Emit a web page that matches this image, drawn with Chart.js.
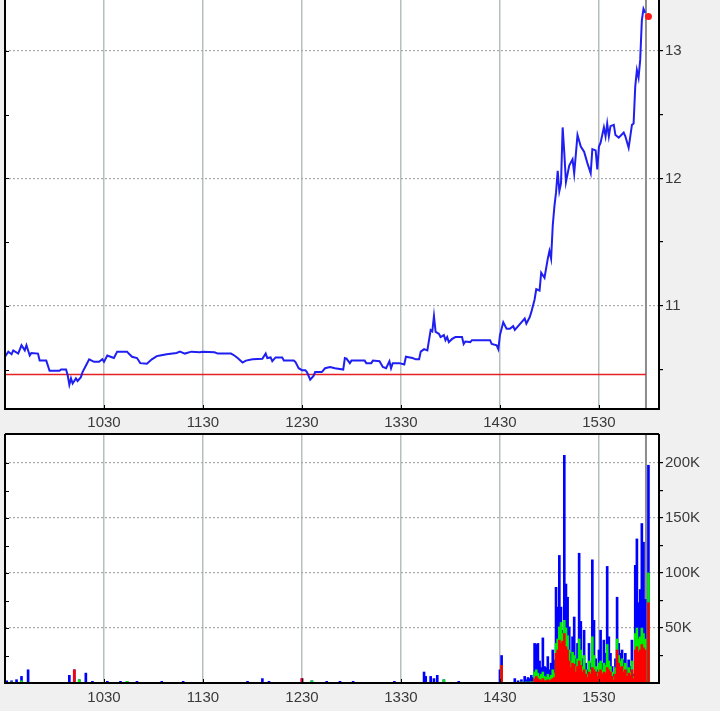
<!DOCTYPE html>
<html>
<head>
<meta charset="utf-8">
<script src="https://cdn.jsdelivr.net/npm/chart.js@4.4.0/dist/chart.umd.min.js"></script>
<style>
  html, body { margin: 0; padding: 0; background: #f0f0f0; }
  canvas { display: block; }
</style>
</head>
<body>
<canvas id="priceChart" width="720" height="432"></canvas>
<canvas id="volChart" width="720" height="279"></canvas>
<script>
// all times are HHMM
var sessionStart = 930;
var sessionEnd = 1606.4;
var hourTicks = [1030, 1130, 1230, 1330, 1430, 1530];
var priceTicks = [10.5, 11, 11.5, 12, 12.5, 13];
var volTicks = [25, 50, 75, 100, 125, 150, 175, 200];   // thousands

var priceTimes = [
  930, 932, 934, 935, 938, 940, 942, 943, 945, 946, 950, 951, 955, 956, 957,
  1003, 1004, 1007, 1008, 1009, 1010, 1011, 1013, 1014, 1016, 1017, 1019, 1021, 1024, 1027, 1029,
  1030, 1032, 1034, 1036, 1038, 1044, 1045, 1047, 1050, 1052, 1056, 1059,
  1102, 1104, 1108, 1114, 1116, 1119, 1123, 1128, 1130, 1137, 1139, 1147, 1149, 1151, 1154, 1156,
  1200, 1206, 1208, 1209, 1211, 1212, 1214, 1218, 1219, 1225, 1226, 1228, 1230, 1232, 1233, 1235,
  1237, 1238, 1242, 1244, 1247, 1250, 1255, 1256, 1257, 1259,
  1300, 1308, 1309, 1312, 1313, 1317, 1319, 1321, 1323, 1324, 1325, 1329, 1332, 1333, 1337, 1339,
  1341, 1342, 1344, 1346, 1348, 1349, 1350, 1351, 1353, 1354, 1356, 1357, 1358, 1359,
  1401, 1403, 1407, 1408, 1409, 1412, 1413, 1424, 1425, 1428, 1429, 1430, 1432, 1434, 1436, 1438,
  1439, 1441, 1443, 1445, 1446, 1448, 1449, 1451, 1452, 1454, 1455, 1457, 1459,
  1500, 1501, 1502, 1503, 1504, 1505, 1506, 1507, 1508, 1509, 1510, 1512, 1514, 1515, 1517, 1519,
  1521, 1523, 1525, 1526, 1528, 1529, 1530, 1531, 1533, 1534, 1535, 1536, 1537, 1539, 1540, 1542,
  1545, 1546, 1548, 1550, 1551, 1552, 1553, 1554, 1555, 1556, 1557, 1558
];
var priceValues = [
  10.60, 10.64, 10.62, 10.65, 10.625, 10.69, 10.65, 10.69, 10.61, 10.63, 10.625, 10.57, 10.57, 10.53, 10.49,
  10.49, 10.50, 10.50, 10.455, 10.38, 10.43, 10.39, 10.43, 10.41, 10.44, 10.48, 10.53, 10.58, 10.56, 10.56, 10.58,
  10.56, 10.61, 10.60, 10.59, 10.64, 10.64, 10.625, 10.60, 10.59, 10.55, 10.545, 10.58,
  10.605, 10.61, 10.62, 10.63, 10.64, 10.625, 10.64, 10.635, 10.64, 10.635, 10.625, 10.625, 10.61, 10.59, 10.555, 10.57,
  10.58, 10.585, 10.625, 10.59, 10.595, 10.565, 10.595, 10.595, 10.57, 10.57, 10.56, 10.51, 10.495, 10.495, 10.48, 10.42,
  10.45, 10.48, 10.48, 10.51, 10.52, 10.51, 10.50, 10.59, 10.585, 10.55,
  10.57, 10.57, 10.55, 10.55, 10.57, 10.565, 10.52, 10.51, 10.565, 10.51, 10.55, 10.55, 10.54, 10.60, 10.59, 10.58,
  10.58, 10.64, 10.66, 10.65, 10.81, 10.80, 10.92, 10.795, 10.78, 10.755, 10.77, 10.73, 10.755, 10.715,
  10.74, 10.755, 10.755, 10.70, 10.72, 10.715, 10.73, 10.73, 10.70, 10.69, 10.66, 10.77, 10.87, 10.82, 10.82, 10.84,
  10.81, 10.84, 10.87, 10.90, 10.86, 10.91, 10.95, 11.05, 11.13, 11.12, 11.26, 11.22, 11.37,
  11.43, 11.37, 11.63, 11.78, 11.89, 12.06, 11.90, 11.96, 12.40, 12.20, 11.97, 12.10, 12.15, 12.04, 12.34, 12.25,
  12.21, 12.12, 12.04, 12.23, 12.22, 12.07, 12.25, 12.28, 12.40, 12.33, 12.43, 12.33, 12.41, 12.42, 12.34, 12.32,
  12.36, 12.33, 12.24, 12.42, 12.43, 12.72, 12.85, 12.79, 12.93, 13.24, 13.33, 13.30
];
var prevClose = 10.46;
var lastTime = 1600;
var lastPrice = 13.27;
var markerTime = 1558.5;

var volTimes = [
  931, 934, 937, 940, 944, 1009, 1012, 1015, 1019, 1023, 1032, 1040, 1044, 1050, 1105, 1118,
  1157, 1206, 1210, 1230, 1236, 1245, 1253, 1301, 1326, 1344, 1345, 1348, 1350, 1352, 1356, 1405,
  1430, 1431, 1439, 1441, 1443, 1445, 1446, 1447, 1448, 1449, 1450,
  1451, 1452, 1453, 1454, 1455, 1456, 1457, 1458, 1459,
  1500, 1501, 1502, 1503, 1504, 1505, 1506, 1507, 1508, 1509,
  1510, 1511, 1512, 1513, 1514, 1515, 1516, 1517, 1518, 1519,
  1520, 1521, 1522, 1523, 1524, 1525, 1526, 1527, 1528, 1529,
  1530, 1531, 1532, 1533, 1534, 1535, 1536, 1537, 1538, 1539,
  1540, 1541, 1542, 1543, 1544, 1545, 1546, 1547, 1548, 1549,
  1550, 1551, 1552, 1553, 1554, 1555, 1556, 1557, 1558, 1600
];
// bar tops in thousands: blue = total, green and red drawn in front
var volBlue = [
  2, 2, 3, 6, 12, 7, 12, 3, 9, 1.5, 1.5, 1.5, 1.5, 1.5, 1.5, 1.5,
  1.5, 4, 1.5, 4, 2, 1.5, 1.5, 1.5, 1.5, 10, 6, 6, 4, 7, 3, 1.5,
  12, 25, 4, 2, 3, 6, 3, 5, 4, 7, 5,
  36, 35, 36, 20, 14, 41, 15, 14, 24,
  12, 18, 30, 21, 87, 69, 116, 69, 48, 207,
  90, 78, 51, 27, 42, 60, 22, 36, 118, 56,
  22, 48, 18, 12, 36, 18, 112, 57, 22, 12,
  30, 48, 18, 39, 27, 106, 42, 27, 15, 8,
  22, 78, 36, 27, 30, 21, 27, 12, 21, 15,
  39, 8, 107, 131, 73, 85, 145, 128, 76, 198
];
var volGreen = [
  0, 1, 0, 2, 0, 0, 0, 3, 0, 0, 0, 0, 1.5, 0, 0, 0,
  0, 0, 0, 0, 2, 0, 0, 0, 0, 0, 0, 0, 0, 0, 3, 0,
  0, 16, 0, 0, 1, 0, 1, 0, 1, 1, 1,
  10, 12, 9, 6, 8, 10, 6, 5, 8,
  5, 7, 12, 9, 36, 40, 51, 55, 45, 57,
  50, 43, 30, 20, 28, 25, 15, 22, 40, 30,
  15, 25, 12, 8, 20, 12, 42, 25, 15, 9,
  18, 20, 12, 18, 16, 35, 20, 15, 10, 5,
  14, 40, 25, 20, 22, 15, 18, 9, 14, 10,
  20, 6, 45, 50, 40, 42, 50, 45, 40, 100
];
var volRed = [
  0, 0, 0, 0, 0, 0, 12, 0, 0, 0, 0, 0, 0, 0, 0, 0,
  0, 0, 0, 4, 0, 0, 0, 0, 0, 0, 0, 0, 0, 0, 0, 0,
  0, 16, 0, 0, 0, 0, 0, 0, 0, 0, 0,
  4, 6, 4, 3, 2, 4, 2, 2, 3,
  2, 3, 4, 5, 27, 30, 39, 36, 38, 45,
  33, 30, 20, 14, 18, 17, 10, 15, 20, 16,
  10, 12, 8, 5, 10, 8, 14, 12, 10, 6,
  10, 12, 8, 10, 9, 14, 12, 10, 6, 3,
  8, 30, 18, 14, 15, 10, 12, 6, 9, 7,
  12, 4, 30, 33, 28, 30, 35, 32, 30, 73
];

function toMin(hhmm) {
  return Math.floor(hhmm / 100) * 60 + (hhmm % 100);
}
function toHHMM(m) {
  return String(Math.floor(m / 60) * 100 + Math.round(m % 60));
}
function points(times, values) {
  return times.map(function (t, i) { return { x: toMin(t), y: values[i] }; });
}

var labelFont = { family: 'Liberation Sans', size: 15 };
var labelColor = '#3a3a3a';

// white plot area, time marker, black frame and small inner ticks
var panelPlugin = {
  id: 'panel',
  beforeDraw: function (chart) {
    var a = chart.chartArea, ctx = chart.ctx;
    ctx.save();
    ctx.fillStyle = '#ffffff';
    ctx.fillRect(a.left, a.top, a.right - a.left, a.bottom - a.top);
    ctx.restore();
  },
  beforeDatasetsDraw: function (chart) {
    var a = chart.chartArea, ctx = chart.ctx;
    var x = chart.scales.x.getPixelForValue(toMin(markerTime));
    ctx.save();
    ctx.strokeStyle = '#8c8c8c';
    ctx.lineWidth = 2;
    ctx.beginPath();
    ctx.moveTo(x, a.top);
    ctx.lineTo(x, a.bottom);
    ctx.stroke();
    ctx.restore();
  },
  afterDraw: function (chart, args, opts) {
    var a = chart.chartArea, ctx = chart.ctx;
    ctx.save();
    ctx.strokeStyle = '#000000';
    ctx.lineWidth = 2;
    ctx.beginPath();
    if (opts.topEdge) {
      ctx.moveTo(a.left, a.top);
      ctx.lineTo(a.right, a.top);
    }
    ctx.moveTo(a.left, a.top);
    ctx.lineTo(a.left, a.bottom);
    ctx.lineTo(a.right, a.bottom);
    ctx.lineTo(a.right, a.top);
    ctx.stroke();
    ctx.lineWidth = 1;
    ctx.beginPath();
    chart.scales.y.ticks.forEach(function (t) {
      var y = Math.round(chart.scales.y.getPixelForValue(t.value)) + 0.5;
      ctx.moveTo(a.left, y);
      ctx.lineTo(a.left + 4, y);
    });
    chart.scales.x.ticks.forEach(function (t) {
      var x = Math.round(chart.scales.x.getPixelForValue(t.value)) + 0.5;
      ctx.moveTo(x, a.bottom);
      ctx.lineTo(x, a.bottom - 4);
    });
    ctx.stroke();
    ctx.restore();
  }
};

function timeScale(axisHeight, pad) {
  return {
    type: 'linear',
    bounds: 'data',
    min: toMin(sessionStart),
    max: toMin(sessionEnd),
    offset: false,
    afterBuildTicks: function (s) {
      s.ticks = hourTicks.map(function (h) { return { value: toMin(h) }; });
    },
    afterFit: function (s) {
      s.height = axisHeight;
      s.paddingLeft = 0;
      s.paddingRight = 0;
    },
    ticks: {
      callback: function (v) { return toHHMM(v); },
      font: labelFont,
      color: labelColor,
      padding: pad,
      maxRotation: 0,
      autoSkip: false
    },
    grid: { color: '#b6bebe', lineWidth: 1.5, drawTicks: false, offset: false },
    border: { display: false }
  };
}

function valueScale(min, max, tickList, isMajor, fmt) {
  return {
    position: 'right',
    bounds: 'data',
    min: min,
    max: max,
    afterBuildTicks: function (s) {
      s.ticks = tickList.map(function (v) { return { value: v }; });
    },
    afterFit: function (s) {
      s.width = 61;
      s.paddingTop = 0;
      s.paddingBottom = 0;
    },
    ticks: {
      callback: function (v) { return isMajor(v) ? fmt(v) : ''; },
      font: labelFont,
      color: labelColor,
      padding: 2
    },
    grid: {
      color: function (ctx) {
        return ctx.tick && isMajor(ctx.tick.value) ? '#a8a8a8' : 'rgba(0,0,0,0)';
      },
      lineWidth: 1.2,
      borderDash: [2, 2],
      tickColor: '#000000',
      tickLength: 4,
      drawTicks: true
    },
    border: { display: false, dash: [2, 2] }
  };
}

new Chart(document.getElementById('priceChart'), {
  type: 'line',
  data: {
    datasets: [
      {
        data: [{ x: toMin(lastTime), y: lastPrice }],
        showLine: false,
        pointRadius: 3.5,
        pointBackgroundColor: '#ff1a1a',
        pointBorderWidth: 0
      },
      {
        data: points(priceTimes, priceValues),
        borderColor: '#1f1ff2',
        borderWidth: 2,
        pointRadius: 0,
        tension: 0
      },
      {
        data: [{ x: toMin(sessionStart), y: prevClose }, { x: toMin(markerTime), y: prevClose }],
        borderColor: '#e42020',
        borderWidth: 1.5,
        pointRadius: 0
      }
    ]
  },
  options: {
    responsive: false,
    animation: false,
    devicePixelRatio: 1,
    layout: { autoPadding: false, padding: { left: 5, top: 0, right: 0, bottom: 0 } },
    plugins: {
      legend: { display: false },
      tooltip: { enabled: false },
      panel: { topEdge: false }
    },
    scales: {
      x: timeScale(23, 5),
      y: valueScale(10.19, 13.4, priceTicks,
        function (v) { return Math.abs(v - Math.round(v)) < 1e-6; },
        function (v) { return String(v); })
    }
  },
  plugins: [panelPlugin]
});

new Chart(document.getElementById('volChart'), {
  type: 'bar',
  data: {
    datasets: [
      { data: points(volTimes, volRed), backgroundColor: '#ff0000' },
      { data: points(volTimes, volGreen), backgroundColor: '#00ee00' },
      { data: points(volTimes, volBlue), backgroundColor: '#0000ff' }
    ]
  },
  options: {
    responsive: false,
    animation: false,
    devicePixelRatio: 1,
    layout: { autoPadding: false, padding: { left: 5, top: 2, right: 0, bottom: 0 } },
    datasets: { bar: { grouped: false, barThickness: 2, borderWidth: 0 } },
    plugins: {
      legend: { display: false },
      tooltip: { enabled: false },
      panel: { topEdge: true }
    },
    scales: {
      x: timeScale(28, 6),
      y: valueScale(0, 226.4, volTicks,
        function (v) { return v % 50 === 0; },
        function (v) { return v + 'K'; })
    }
  },
  plugins: [panelPlugin]
});
</script>
</body>
</html>
